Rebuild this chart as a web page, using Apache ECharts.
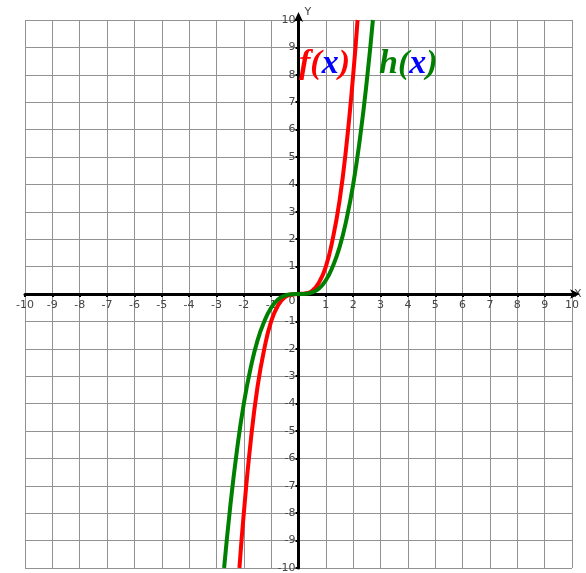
<!DOCTYPE html>
<html>
<head>
<meta charset="utf-8">
<script src="https://cdn.jsdelivr.net/npm/echarts@6/dist/echarts.min.js"></script>
<style>
  html, body { margin: 0; padding: 0; background: #fff; }
  #chart { width: 586px; height: 573px; }
</style>
</head>
<body>
<div id="chart"></div>
<script>
// points
var fX = [-2.16, -2, -1.75, -1.5, -1.25, -1, -0.75, -0.5, -0.25, 0, 0.25, 0.5, 0.75, 1, 1.25, 1.5, 1.75, 2, 2.16];
var fY = [-10, -8, -5.4, -3.4, -2, -1, -0.42, -0.12, -0.02, 0, 0.02, 0.12, 0.42, 1, 2, 3.4, 5.4, 8, 10];
var hX = [-2.72, -2.5, -2.25, -2, -1.75, -1.5, -1.25, -1, -0.75, -0.5, -0.25, 0, 0.25, 0.5, 0.75, 1, 1.25, 1.5, 1.75, 2, 2.25, 2.5, 2.72];
var hY = [-10, -7.8, -5.7, -4, -2.7, -1.7, -1, -0.5, -0.2, -0.06, -0.01, 0, 0.01, 0.06, 0.2, 0.5, 1, 1.7, 2.7, 4, 5.7, 7.8, 10];
var axisMin = -10, axisMax = 10, step = 1;

function pairs(xs, ys) {
  return xs.map(function (x, i) { return [x, ys[i]]; });
}

var chart = echarts.init(document.getElementById('chart'));

// grid box in px, axes get shifted onto the origin with offset
var gLeft = 25, gTop = 20, gW = 547, gH = 548;

var axisCommon = {
  type: 'value',
  min: axisMin,
  max: axisMax,
  interval: step,
  axisLine: {
    onZero: false,
    symbol: ['none', 'arrow'],
    symbolSize: [7, 10],
    symbolOffset: [0, 8],
    lineStyle: { color: '#000', width: 3 }
  },
  axisTick: { show: true, length: 3, lineStyle: { color: '#000', width: 2 } },
  splitLine: { show: true, lineStyle: { color: '#929292', width: 1 } },
  axisLabel: {
    color: '#444',
    fontFamily: 'DejaVu Sans',
    fontSize: 11,
    margin: 3
  },
  nameGap: 2
};

chart.setOption({
  animation: false,
  grid: { left: gLeft, top: gTop, width: gW, height: gH, outerBoundsMode: 'none', containLabel: false },
  xAxis: Object.assign({}, axisCommon, {
    position: 'bottom',
    offset: -gH / 2,
    name: 'X',
    nameTextStyle: { color: '#444', fontSize: 11, fontFamily: 'DejaVu Sans', padding: [0, 0, 20, 0] },
    axisLabel: Object.assign({}, axisCommon.axisLabel, {
      margin: 6,
      formatter: function (v) { return v === 0 ? '' : v; }
    })
  }),
  yAxis: Object.assign({}, axisCommon, {
    position: 'left',
    offset: -gW / 2,
    name: 'Y',
    nameTextStyle: { color: '#444', fontSize: 11, fontFamily: 'DejaVu Sans', align: 'left', padding: [0, 0, 0, 6] },
    axisLabel: Object.assign({}, axisCommon.axisLabel, {
      formatter: function (v) { return v === 0 ? '{z|0}' : v; },
      rich: { z: { color: '#444', fontSize: 11, fontFamily: 'DejaVu Sans', padding: [14, 0, 0, 0] } }
    })
  }),
  series: [
    {
      name: 'f(x)',
      type: 'line',
      data: pairs(fX, fY),
      smooth: true,
      showSymbol: false,
      lineStyle: { color: '#ff0000', width: 4 },
      z: 3
    },
    {
      name: 'h(x)',
      type: 'line',
      data: pairs(hX, hY),
      smooth: true,
      showSymbol: false,
      lineStyle: { color: '#008000', width: 4 },
      z: 4
    }
  ],
  graphic: [
    {
      type: 'text',
      left: 299,
      top: 47,
      z: 10,
      style: {
        text: '{r|f(}{b|x}{r|)}',
        rich: {
          r: { fill: '#ff0000', font: 'italic bold 34px "Liberation Serif"' },
          b: { fill: '#0000ff', font: 'italic bold 34px "Liberation Serif"' }
        }
      }
    },
    {
      type: 'text',
      left: 379,
      top: 47,
      z: 10,
      style: {
        text: '{g|h(}{b|x}{g|)}',
        rich: {
          g: { fill: '#008000', font: 'italic bold 34px "Liberation Serif"' },
          b: { fill: '#0000ff', font: 'italic bold 34px "Liberation Serif"' }
        }
      }
    }
  ]
});
</script>
</body>
</html>
